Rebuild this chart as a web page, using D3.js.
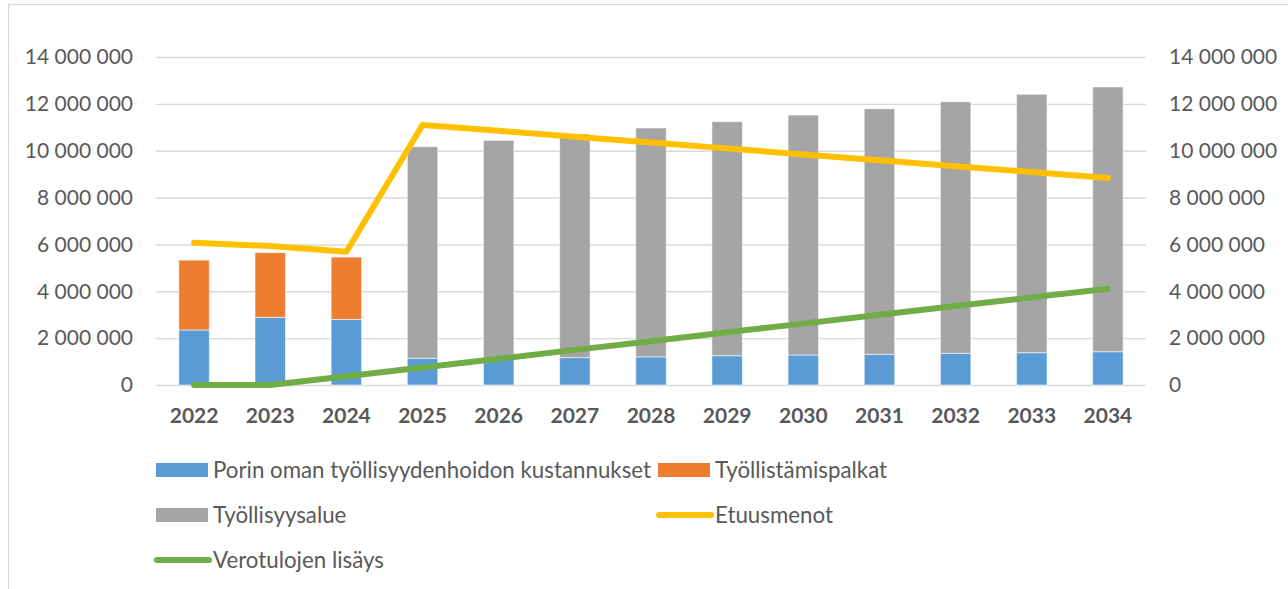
<!DOCTYPE html>
<html>
<head>
<meta charset="utf-8">
<script src="https://cdn.jsdelivr.net/npm/d3@7"></script>
<style>
  html, body { margin: 0; padding: 0; background: #ffffff; }
  svg { display: block; }
  text { font-family: "Lato", "Open Sans", sans-serif; fill: #595959; }
</style>
</head>
<body>
<svg id="chart" width="1288" height="589"></svg>
<script>
// Years on the category axis
const years = ["2022", "2023", "2024", "2025", "2026", "2027", "2028", "2029", "2030", "2031", "2032", "2033", "2034"];

// Stacked bar series (euros)
const porinOmat = [2350000, 2890000, 2800000, 1140000, 1110000, 1170000, 1200000, 1250000, 1280000, 1310000, 1350000, 1380000, 1420000];
const tyollistamispalkat = [2980000, 2760000, 2660000, 0, 0, 0, 0, 0, 0, 0, 0, 0, 0];
const tyollisyysalue = [0, 0, 0, 9030000, 9330000, 9540000, 9770000, 9990000, 10240000, 10480000, 10740000, 11030000, 11300000];

// Line series (euros)
const etuusmenot = [6070000, 5930000, 5690000, 11100000, 10850000, 10600000, 10350000, 10100000, 9840000, 9590000, 9340000, 9090000, 8840000];
const verotulojenLisays = [0, 0, 370000, 750000, 1120000, 1500000, 1870000, 2250000, 2620000, 3000000, 3370000, 3740000, 4110000];

// Value axis ticks
const yTicks = [0, 2000000, 4000000, 6000000, 8000000, 10000000, 12000000, 14000000];

// Series names
const barNames = ["Porin oman työllisyydenhoidon kustannukset", "Työllistämispalkat", "Työllisyysalue"];
const lineNames = ["Etuusmenot", "Verotulojen lisäys"];
const barColors = ["#5b9bd5", "#ed7d31", "#a5a5a5"];
const lineColors = ["#ffc000", "#70ad47"];

const svg = d3.select("#chart");

// Outer chart frame
svg.append("rect")
  .attr("x", 8.5).attr("y", 4.5)
  .attr("width", 1400).attr("height", 700)
  .attr("fill", "none").attr("stroke", "#d9d9d9").attr("stroke-width", 1.2);

const plot = { left: 156, right: 1146, top: 57, bottom: 385 };

const x = d3.scaleBand()
  .domain(years)
  .range([plot.left, plot.right])
  .paddingInner(0.6)
  .paddingOuter(0.3);

const y = d3.scaleLinear()
  .domain([0, 14000000])
  .range([plot.bottom, plot.top]);

const fmt = d3.formatLocale({ decimal: ",", thousands: " ", grouping: [3], currency: ["", " €"] }).format(",d");

// Horizontal gridlines
svg.append("g")
  .attr("transform", `translate(${plot.left},0)`)
  .call(d3.axisLeft(y).tickValues(yTicks).tickSize(-(plot.right - plot.left)).tickFormat(""))
  .call(g => g.select(".domain").remove())
  .call(g => g.selectAll("line").attr("stroke", "#d9d9d9").attr("stroke-width", 1.4));

// Left value axis
svg.append("g")
  .attr("transform", `translate(${plot.left},0)`)
  .call(d3.axisLeft(y).tickValues(yTicks).tickSize(0).tickPadding(23).tickFormat(fmt))
  .call(g => g.select(".domain").remove())
  .call(g => g.selectAll("text").attr("font-size", 21).attr("fill", "#595959")
    .style("font-family", "Lato, 'Open Sans', sans-serif"));

// Right value axis
svg.append("g")
  .attr("transform", `translate(${plot.right},0)`)
  .call(d3.axisRight(y).tickValues(yTicks).tickSize(0).tickPadding(23).tickFormat(fmt))
  .call(g => g.select(".domain").remove())
  .call(g => g.selectAll("text").attr("font-size", 21).attr("fill", "#595959")
    .style("font-family", "Lato, 'Open Sans', sans-serif"));

// Category axis
svg.append("g")
  .attr("transform", `translate(0,${plot.bottom})`)
  .call(d3.axisBottom(x).tickSize(0).tickPadding(23))
  .call(g => g.select(".domain").remove())
  .call(g => g.selectAll("text").attr("font-size", 21).attr("font-weight", "bold").attr("fill", "#595959")
    .style("font-family", "Lato, 'Open Sans', sans-serif"));

// Stacked bars
const rows = years.map((yr, i) => ({
  year: yr,
  s0: porinOmat[i],
  s1: tyollistamispalkat[i],
  s2: tyollisyysalue[i]
}));
const stack = d3.stack().keys(["s0", "s1", "s2"])(rows);

svg.append("g").selectAll("g")
  .data(stack)
  .join("g")
  .attr("fill", (d, i) => barColors[i])
  .selectAll("rect")
  .data(d => d.filter(p => p[1] - p[0] > 0))
  .join("rect")
  .attr("x", d => x(d.data.year))
  .attr("width", x.bandwidth())
  .attr("y", d => y(d[1]))
  .attr("height", d => y(d[0]) - y(d[1]))
  .attr("stroke", "#ffffff")
  .attr("stroke-opacity", 0.55)
  .attr("stroke-width", 1);

// Lines
const line = d3.line()
  .x((d, i) => x(years[i]) + x.bandwidth() / 2)
  .y(d => y(d));

[etuusmenot, verotulojenLisays].forEach((series, k) => {
  svg.append("path")
    .datum(series)
    .attr("d", line)
    .attr("fill", "none")
    .attr("stroke", lineColors[k])
    .attr("stroke-width", 6)
    .attr("stroke-linecap", "round")
    .attr("stroke-linejoin", "round");
});

// Legend
const legend = svg.append("g").attr("class", "legend");
const legendItems = [
  { name: barNames[0], type: "bar", color: barColors[0], col: 0, row: 0 },
  { name: barNames[1], type: "bar", color: barColors[1], col: 1, row: 0 },
  { name: barNames[2], type: "bar", color: barColors[2], col: 0, row: 1 },
  { name: lineNames[0], type: "line", color: lineColors[0], col: 1, row: 1 },
  { name: lineNames[1], type: "line", color: lineColors[1], col: 0, row: 2 }
];
const colX = [156, 658];
const rowY = [470, 515, 560];

legendItems.forEach(it => {
  const gx = colX[it.col], gy = rowY[it.row];
  if (it.type === "bar") {
    legend.append("rect")
      .attr("x", gx).attr("y", gy - 7)
      .attr("width", 52).attr("height", 14)
      .attr("fill", it.color);
  } else {
    legend.append("line")
      .attr("x1", gx + 1).attr("x2", gx + 53)
      .attr("y1", gy).attr("y2", gy)
      .attr("stroke", it.color).attr("stroke-width", 6)
      .attr("stroke-linecap", "round");
  }
  legend.append("text")
    .attr("x", gx + 57)
    .attr("y", gy)
    .attr("dy", "0.36em")
    .attr("font-size", 22.3)
    .text(it.name);
});
</script>
</body>
</html>
